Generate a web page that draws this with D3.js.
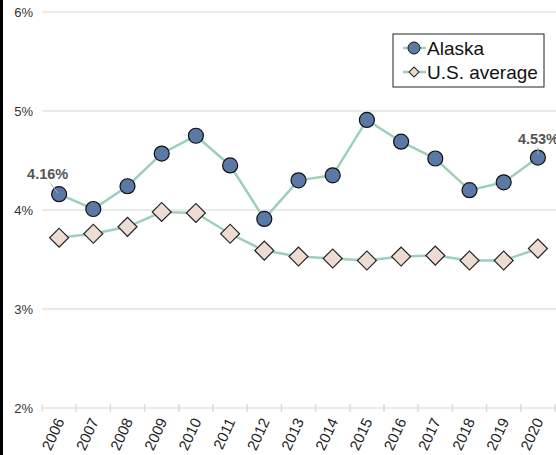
<!DOCTYPE html>
<html lang="en">
<head>
<meta charset="utf-8">
<script src="https://d3js.org/d3.v7.min.js"></script>
<style>
    body { margin: 0; background: #fff; }
    svg { display: block; font-family: "Liberation Sans", Arial, sans-serif; }
    .grid line { stroke: #e3e3e3; stroke-width: 1.5; }
    .ylab { font-size: 13px; fill: #333; text-anchor: end; }
    .xlab { font-size: 15px; fill: #222; text-anchor: end; }
    .callout { font-size: 14.5px; font-weight: bold; fill: #555; }
    .line { fill: none; stroke: #9dcfbb; stroke-width: 2.5; }
</style>
</head>
<body>
<svg width="556" height="455"></svg>
<script>
    // data
    var years = ["2006","2007","2008","2009","2010","2011","2012","2013","2014","2015","2016","2017","2018","2019","2020"];
    var alaska = [4.16, 4.01, 4.24, 4.57, 4.75, 4.45, 3.91, 4.30, 4.35, 4.91, 4.69, 4.52, 4.20, 4.28, 4.53];
    var usAverage = [3.72, 3.76, 3.83, 3.98, 3.97, 3.76, 3.59, 3.53, 3.51, 3.49, 3.53, 3.54, 3.49, 3.49, 3.61];
    var yTicks = [2, 3, 4, 5, 6];

    var svg = d3.select("svg"),
        width = +svg.attr("width"),
        height = +svg.attr("height");

    var mLeft = 42, mRight = 555, mTop = 12, mBottom = 408;

    var x = d3.scaleBand().domain(years).range([mLeft, mRight]);
    var y = d3.scaleLinear().domain([2, 6]).range([mBottom, mTop]);

    // left border
    svg.append("rect").attr("x", 0).attr("y", 0).attr("width", 3).attr("height", height).attr("fill", "#000");

    // gridlines
    var grid = svg.append("g").attr("class", "grid");
    grid.selectAll("line").data(yTicks).enter().append("line")
        .attr("x1", mLeft).attr("x2", width)
        .attr("y1", function(d) { return y(d); })
        .attr("y2", function(d) { return y(d); });

    svg.selectAll(".ylab").data(yTicks).enter().append("text")
        .attr("class", "ylab")
        .attr("x", 33)
        .attr("y", function(d) { return y(d) + 4.5; })
        .text(function(d) { return d + "%"; });

    // x ticks at band edges
    var edges = years.map(function(d) { return x(d); }).concat([mRight]);
    svg.append("g").selectAll("line").data(edges).enter().append("line")
        .attr("x1", function(d) { return d; }).attr("x2", function(d) { return d; })
        .attr("y1", mBottom - 4).attr("y2", mBottom + 4)
        .attr("stroke", "#ddd").attr("stroke-width", 1.5);

    svg.selectAll(".xlab").data(years).enter().append("text")
        .attr("class", "xlab")
        .attr("transform", function(d) {
            return "translate(" + (x(d) + x.bandwidth() / 2 + 1) + "," + (mBottom + 11) + ") rotate(-65)";
        })
        .attr("dy", "0.35em")
        .text(function(d) { return d; });

    var cx = function(d, i) { return x(years[i]) + x.bandwidth() / 2; };
    var line = d3.line().x(function(d, i) { return cx(d, i); }).y(function(d) { return y(d); });

    svg.append("path").datum(usAverage).attr("class", "line").attr("d", line);
    svg.append("path").datum(alaska).attr("class", "line").attr("d", line);

    svg.selectAll(".us").data(usAverage).enter().append("path")
        .attr("class", "us")
        .attr("transform", function(d, i) { return "translate(" + cx(d, i) + "," + y(d) + ") rotate(45)"; })
        .attr("d", d3.symbol().type(d3.symbolSquare).size(180))
        .attr("fill", "#ecdcd2").attr("stroke", "#222").attr("stroke-width", 1.2);

    svg.selectAll(".ak").data(alaska).enter().append("circle")
        .attr("class", "ak")
        .attr("cx", cx).attr("cy", function(d) { return y(d); })
        .attr("r", 7.5)
        .attr("fill", "#5b79a6").attr("stroke", "#111").attr("stroke-width", 1.2);

    // callouts
    var first = 0, last = years.length - 1;
    svg.append("line").attr("x1", cx(0, first) - 9).attr("y1", y(alaska[first]) - 11)
        .attr("x2", cx(0, first) - 1).attr("y2", y(alaska[first]) - 1)
        .attr("stroke", "#aaa").attr("stroke-width", 1);
    svg.append("text").attr("class", "callout")
        .attr("x", cx(0, first) - 32).attr("y", y(alaska[first]) - 15)
        .text(alaska[first].toFixed(2) + "%");
    svg.append("line").attr("x1", cx(0, last)).attr("y1", y(alaska[last]) - 10)
        .attr("x2", cx(0, last)).attr("y2", y(alaska[last]) - 3)
        .attr("stroke", "#aaa").attr("stroke-width", 1);
    svg.append("text").attr("class", "callout")
        .attr("x", cx(0, last) - 20).attr("y", y(alaska[last]) - 14)
        .text(alaska[last].toFixed(2) + "%");

    // legend
    var lg = svg.append("g").attr("transform", "translate(393,34)");
    lg.append("rect").attr("width", 151).attr("height", 53)
        .attr("fill", "#fff").attr("stroke", "#222").attr("stroke-width", 1);
    var items = [["Alaska", "circle"], ["U.S. average", "diamond"]];
    items.forEach(function(it, i) {
        var yy = 14 + i * 24;
        lg.append("line").attr("x1", 10).attr("x2", 33).attr("y1", yy).attr("y2", yy)
            .attr("stroke", "#9dcfbb").attr("stroke-width", 2.5);
        if (it[1] === "circle") {
            lg.append("circle").attr("cx", 21).attr("cy", yy).attr("r", 6)
                .attr("fill", "#5b79a6").attr("stroke", "#111").attr("stroke-width", 1);
        } else {
            lg.append("path").attr("transform", "translate(21," + yy + ") rotate(45)")
                .attr("d", d3.symbol().type(d3.symbolSquare).size(50))
                .attr("fill", "#ecdcd2").attr("stroke", "#222").attr("stroke-width", 1);
        }
        lg.append("text").attr("x", 34).attr("y", yy + 7)
            .attr("font-size", 19).attr("fill", "#111").text(it[0]);
    });
</script>
</body>
</html>
